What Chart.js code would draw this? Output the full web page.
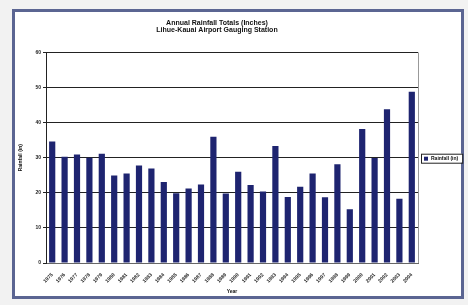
<!DOCTYPE html>
<html>
<head>
<meta charset="utf-8">
<script src="https://cdn.jsdelivr.net/npm/chart.js@4"></script>
<style>
  body { margin: 0; background: #f2f2f2; }
  #marco { position: absolute; left: 12px; top: 9px; width: 446px; height: 284px;
           border: 3px solid #5b6592; background: #fff; }
  #lienzo { position: absolute; left: 0; top: 0; }
</style>
</head>
<body>
<div id="marco"></div>
<canvas id="lienzo" width="468" height="305"></canvas>
<script>
// datos
var anios = ['1975','1976','1977','1978','1979','1980','1981','1982','1983','1984',
             '1985','1986','1987','1988','1989','1990','1991','1992','1993','1994',
             '1995','1996','1997','1998','1999','2000','2001','2002','2003','2004'];
var lluvia = [34.6, 30.3, 30.9, 30.0, 31.1, 24.9, 25.5, 27.8, 26.9, 23.1,
              19.9, 21.2, 22.4, 36.0, 19.8, 26.0, 22.2, 20.4, 33.3, 18.8,
              21.7, 25.5, 18.7, 28.1, 15.3, 38.2, 29.9, 43.8, 18.3, 48.8];
var ticksY = [0, 10, 20, 30, 40, 50, 60];
var titulo = ['Annual Rainfall Totals (Inches)', 'Lihue-Kauai Airport Gauging Station'];
var nombreSerie = 'Rainfall (in)';

var fuente = 'Liberation Sans';

// leyenda dibujada a mano con recuadro, estilo Excel
var leyendaCaja = {
  id: 'leyendaCaja',
  afterDraw: function(chart) {
    var ctx = chart.ctx;
    var a = chart.chartArea;
    var x = a.right + 3, y = (a.top + a.bottom) / 2 - 4;
    ctx.save();
    ctx.font = 'bold 5px ' + fuente;
    var w = ctx.measureText(nombreSerie).width + 14;
    ctx.fillStyle = '#fff';
    ctx.fillRect(x, y, w, 9);
    ctx.strokeStyle = '#222';
    ctx.lineWidth = 1;
    ctx.strokeRect(x + 0.5, y + 0.5, w, 9);
    ctx.fillStyle = '#1e2470';
    ctx.fillRect(x + 3, y + 3, 4, 4);
    ctx.fillStyle = '#111';
    ctx.textBaseline = 'middle';
    ctx.fillText(nombreSerie, x + 10, y + 5);
    ctx.restore();
  }
};

var ctx = document.getElementById('lienzo').getContext('2d');
var chart = new Chart(ctx, {
  type: 'bar',
  data: {
    labels: anios,
    datasets: [{
      label: nombreSerie,
      data: lluvia,
      backgroundColor: '#1e2470',
      borderWidth: 0,
      barPercentage: 0.5,
      categoryPercentage: 1.0
    }]
  },
  options: {
    responsive: false,
    animation: false,
    layout: { padding: { left: 16, right: 50, top: 14, bottom: 10 } },
    plugins: {
      legend: { display: false },
      tooltip: { enabled: false },
      title: {
        display: true,
        text: titulo,
        color: '#111',
        font: { family: fuente, size: 7, weight: 'bold', lineHeight: 1.1 },
        padding: { top: 5, bottom: 18 }
      }
    },
    scales: {
      x: {
        grid: { display: false },
        border: { color: '#666' },
        ticks: {
          color: '#222', maxRotation: 45, minRotation: 45, autoSkip: false,
          font: { family: fuente, size: 5, weight: 'bold' }, padding: 1
        },
        title: {
          display: true, text: 'Year', color: '#111',
          font: { family: fuente, size: 5, weight: 'bold' }, padding: { top: 3, bottom: 0 }
        },
        afterFit: function(s) { s.height = 32; }
      },
      y: {
        min: 0, max: 60,
        afterBuildTicks: function(s) { s.ticks = ticksY.map(function(v) { return { value: v }; }); },
        grid: { color: '#222', lineWidth: 1, tickLength: 3 },
        border: { color: '#222' },
        ticks: {
          color: '#222', padding: 2,
          font: { family: fuente, size: 5, weight: 'bold' }
        },
        title: {
          display: true, text: nombreSerie, color: '#111',
          font: { family: fuente, size: 5, weight: 'bold' }, padding: 2
        },
        afterFit: function(s) { s.width = 30; }
      }
    }
  },
  plugins: [leyendaCaja, {
    id: 'bordeDerecho',
    afterDraw: function(chart) {
      var c = chart.ctx, a = chart.chartArea;
      c.save();
      c.strokeStyle = '#999';
      c.beginPath();
      c.moveTo(a.right + 0.5, a.top);
      c.lineTo(a.right + 0.5, a.bottom);
      c.stroke();
      c.restore();
    }
  }]
});
</script>
</body>
</html>
